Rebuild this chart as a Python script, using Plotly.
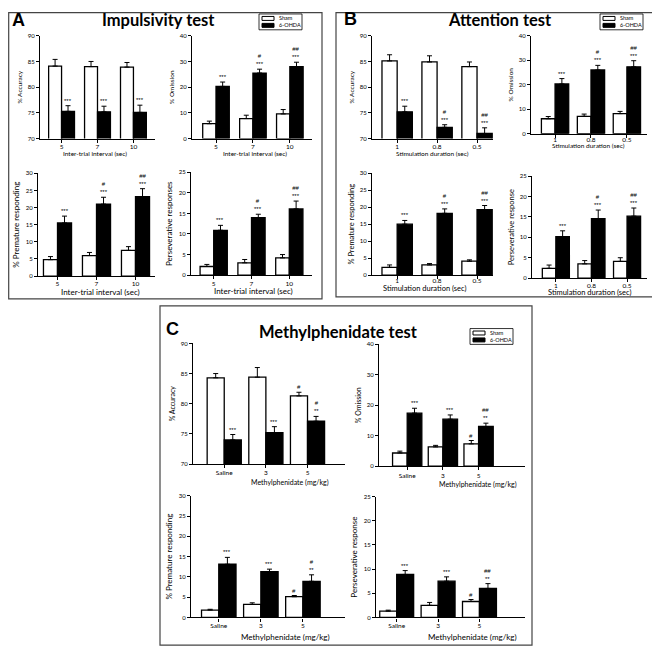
import plotly.graph_objects as go

# ---------------- data ----------------
iti_labels = ["5", "7", "10"]
stim_labels = ["1", "0.8", "0.5"]
mph_labels = ["Saline", "3", "5"]

# Panel A - Impulsivity test
A_acc_sham = [84.1, 84.0, 83.9]
A_acc_sham_err = [1.3, 1.0, 0.9]
A_acc_ohda = [75.3, 75.2, 75.1]
A_acc_ohda_err = [1.1, 1.1, 1.4]
A_om_sham = [5.8, 7.8, 9.6]
A_om_sham_err = [1.0, 1.3, 1.7]
A_om_ohda = [20.3, 25.5, 28.0]
A_om_ohda_err = [1.7, 1.5, 1.7]
A_pre_sham = [4.8, 6.0, 7.5]
A_pre_sham_err = [0.9, 0.9, 1.1]
A_pre_ohda = [15.5, 21.0, 23.2]
A_pre_ohda_err = [2.0, 2.0, 2.3]
A_per_sham = [2.1, 3.0, 4.2]
A_per_sham_err = [0.5, 0.8, 0.8]
A_per_ohda = [10.9, 14.0, 16.1]
A_per_ohda_err = [1.2, 0.8, 1.9]

# Panel B - Attention test
B_acc_sham = [85.1, 84.9, 84.0]
B_acc_sham_err = [1.2, 1.2, 0.9]
B_acc_ohda = [75.2, 72.2, 71.0]
B_acc_ohda_err = [1.1, 0.5, 1.1]
B_om_sham = [6.1, 7.1, 8.2]
B_om_sham_err = [0.9, 0.9, 0.9]
B_om_ohda = [20.3, 26.0, 27.3]
B_om_ohda_err = [2.2, 1.9, 2.5]
B_pre_sham = [2.3, 3.0, 4.1]
B_pre_sham_err = [0.7, 0.4, 0.4]
B_pre_ohda = [15.0, 18.2, 19.3]
B_pre_ohda_err = [1.1, 1.3, 1.2]
B_per_sham = [2.4, 3.5, 4.1]
B_per_sham_err = [0.8, 0.8, 0.9]
B_per_ohda = [10.2, 14.6, 15.2]
B_per_ohda_err = [1.4, 2.1, 2.0]

# Panel C - Methylphenidate test
C_acc_sham = [84.3, 84.4, 81.3]
C_acc_sham_err = [0.7, 1.6, 0.6]
C_acc_ohda = [74.0, 75.2, 77.1]
C_acc_ohda_err = [0.9, 1.0, 0.8]
C_om_sham = [4.3, 6.3, 7.3]
C_om_sham_err = [0.6, 0.5, 1.1]
C_om_ohda = [17.4, 15.4, 13.0]
C_om_ohda_err = [1.6, 1.4, 1.1]
C_pre_sham = [1.8, 3.2, 5.1]
C_pre_sham_err = [0.2, 0.4, 0.3]
C_pre_ohda = [13.1, 11.3, 8.9]
C_pre_ohda_err = [1.7, 0.6, 1.6]
C_per_sham = [1.3, 2.5, 3.3]
C_per_sham_err = [0.2, 0.6, 0.4]
C_per_ohda = [8.9, 7.5, 6.0]
C_per_ohda_err = [0.8, 0.9, 1.0]

# significance marks
no_sig = ["", "", ""]
sig_all3 = ["***", "***", "***"]
sig_trend = ["***", "#<br>***", "##<br>***"]
C_sham_sig = ["", "", "#"]
C_acc_ohda_sig = ["***", "***", "#<br>**"]
C_om_ohda_sig = ["***", "***", "##<br>**"]
C_pre_ohda_sig = ["***", "***", "#<br>**"]
C_per_ohda_sig = ["***", "***", "##<br>**"]

group_names = ["Sham", "6-OHDA"]
titles = ["Impulsivity test", "Attention test", "Methylphenidate test"]
letters = ["A", "B", "C"]
xlab_A = "Inter-trial interval (sec)"
xlab_B = "Stimulation duration (sec)"
xlab_C = "Methylphenidate (mg/kg)"

# ---------------- layout helpers ----------------
W, H = 660, 650
OFF = 8  # page body margin offset


def fx(p):
    return (p - OFF) / W


def fy(p):
    return 1 - (p - OFF) / H


FONT = "Lato"

plots = [
    dict(cats=iti_labels, s=A_acc_sham, se=A_acc_sham_err, o=A_acc_ohda, oe=A_acc_ohda_err,
         ss=no_sig, os=sig_all3, yl="% Accuracy", xl=xlab_A, yr=[70, 90], dt=5,
         box=(40, 155, 32, 136), xr=[-0.6, 2.6], w=0.36, xt=(95, 151), fs=6.5, ts=-2),
    dict(cats=iti_labels, s=A_om_sham, se=A_om_sham_err, o=A_om_ohda, oe=A_om_ohda_err,
         ss=no_sig, os=sig_trend, yl="% Omission", xl=xlab_A, yr=[0, 40], dt=10,
         box=(192, 312, 32, 136), xr=[-0.65, 2.6], w=0.36, xt=(255, 151), fs=6.5, ts=-2),
    dict(cats=iti_labels, s=A_pre_sham, se=A_pre_sham_err, o=A_pre_ohda, oe=A_pre_ohda_err,
         ss=no_sig, os=sig_trend, yl="% Premature responding", xl=xlab_A, yr=[0, 30], dt=5,
         box=(38, 155, 171, 275), xr=[-0.5, 2.5], w=0.36, xt=(100, 291), fs=8, ts=-2),
    dict(cats=iti_labels, s=A_per_sham, se=A_per_sham_err, o=A_per_ohda, oe=A_per_ohda_err,
         ss=no_sig, os=sig_trend, yl="Perseverative responses", xl=xlab_A, yr=[0, 25], dt=5,
         box=(191, 312, 170, 274), xr=[-0.6, 2.6], w=0.36, xt=(253, 290), fs=8, ts=-1),
    dict(cats=stim_labels, s=B_acc_sham, se=B_acc_sham_err, o=B_acc_ohda, oe=B_acc_ohda_err,
         ss=no_sig, os=sig_trend, yl="% Accuracy", xl=xlab_B, yr=[70, 90], dt=5,
         box=(372, 493, 32, 136), xr=[-0.63, 2.4], w=0.38, xt=(432, 151), fs=6.5, ts=-2),
    dict(cats=stim_labels, s=B_om_sham, se=B_om_sham_err, o=B_om_ohda, oe=B_om_ohda_err,
         ss=no_sig, os=sig_trend, yl="% Omission", xl=xlab_B, yr=[0, 40], dt=10,
         box=(531, 647, 32, 131), xr=[-0.67, 2.56], w=0.38, xt=(588, 143), fs=6.5, ts=-4),
    dict(cats=stim_labels, s=B_pre_sham, se=B_pre_sham_err, o=B_pre_ohda, oe=B_pre_ohda_err,
         ss=no_sig, os=sig_trend, yl="% Premature responding", xl=xlab_B, yr=[0, 30], dt=5,
         box=(372, 493, 171, 274), xr=[-0.63, 2.4], w=0.38, xt=(425, 288), fs=7.5, ts=-4),
    dict(cats=stim_labels, s=B_per_sham, se=B_per_sham_err, o=B_per_ohda, oe=B_per_ohda_err,
         ss=no_sig, os=sig_trend, yl="Perseverative response", xl=xlab_B, yr=[0, 25], dt=5,
         box=(532, 647, 174, 277), xr=[-0.67, 2.56], w=0.38, xt=(590, 292), fs=7.5, ts=-2),
    dict(cats=mph_labels, s=C_acc_sham, se=C_acc_sham_err, o=C_acc_ohda, oe=C_acc_ohda_err,
         ss=C_sham_sig, os=C_acc_ohda_sig, yl="% Accuracy", xl=xlab_C, yr=[70, 90], dt=5,
         box=(193, 345, 343, 465), xr=[-0.75, 2.9], w=0.41, xt=(290, 484), fs=7, ts=-1),
    dict(cats=mph_labels, s=C_om_sham, se=C_om_sham_err, o=C_om_ohda, oe=C_om_ohda_err,
         ss=C_sham_sig, os=C_om_ohda_sig, yl="% Omission", xl=xlab_C, yr=[0, 40], dt=10,
         box=(379, 525, 344, 467), xr=[-0.79, 3.3], w=0.41, xt=(478, 486), fs=7, ts=0),
    dict(cats=mph_labels, s=C_pre_sham, se=C_pre_sham_err, o=C_pre_ohda, oe=C_pre_ohda_err,
         ss=C_sham_sig, os=C_pre_ohda_sig, yl="% Premature responding", xl=xlab_C, yr=[0, 30], dt=5,
         box=(191, 345, 497, 620), xr=[-0.66, 3.0], w=0.41, xt=(285, 640), fs=8, ts=-1),
    dict(cats=mph_labels, s=C_per_sham, se=C_per_sham_err, o=C_per_ohda, oe=C_per_ohda_err,
         ss=C_sham_sig, os=C_per_ohda_sig, yl="Perseverative response", xl=xlab_C, yr=[0, 25], dt=5,
         box=(376, 525, 498, 620), xr=[-0.5, 3.1], w=0.41, xt=(472, 640), fs=8, ts=-1),
]

fig = go.Figure()
annotations = []
shapes = []

for i, p in enumerate(plots):
    n = "" if i == 0 else str(i + 1)
    xa, ya = "x" + n, "y" + n
    err_style = dict(type="data", symmetric=False, thickness=1, width=2.5, color="black")
    fig.add_trace(go.Bar(
        x=p["cats"], y=p["s"], name=group_names[0], xaxis=xa, yaxis=ya,
        offset=-p["w"], width=p["w"], showlegend=False,
        marker=dict(color="white", line=dict(color="black", width=1.3)),
        error_y=dict(array=p["se"], arrayminus=[0] * len(p["se"]), **err_style)))
    fig.add_trace(go.Bar(
        x=p["cats"], y=p["o"], name=group_names[1], xaxis=xa, yaxis=ya,
        offset=0, width=p["w"], showlegend=False,
        marker=dict(color="black", line=dict(color="black", width=1.3)),
        error_y=dict(array=p["oe"], arrayminus=[0] * len(p["oe"]), **err_style)))

    x0, x1, yt, yb = p["box"]
    fig.layout[("xaxis" + n) if n else "xaxis"] = dict(
        domain=[fx(x0), fx(x1)], anchor=ya, type="category", range=p["xr"],
        showline=True, linecolor="black", linewidth=1.3, ticks="outside", ticklen=3,
        tickcolor="black", tickwidth=1, showgrid=False, zeroline=False,
        ticklabelstandoff=p["ts"],
        tickfont=dict(family=FONT, size=6.5, color="black"), fixedrange=True)
    fig.layout[("yaxis" + n) if n else "yaxis"] = dict(
        domain=[fy(yb), fy(yt)], anchor=xa, range=p["yr"], dtick=p["dt"],
        showline=True, linecolor="black", linewidth=1.3, ticks="outside", ticklen=3,
        tickcolor="black", tickwidth=1, showgrid=False, zeroline=False,
        tickfont=dict(family=FONT, size=6, color="black"),
        title=dict(text=p["yl"], font=dict(family=FONT, size=p["fs"], color="black"), standoff=4),
        fixedrange=True)

    annotations.append(dict(text=p["xl"], x=fx(p["xt"][0]), y=fy(p["xt"][1]), xref="paper", yref="paper",
                            showarrow=False, xanchor="center", yanchor="middle",
                            font=dict(family=FONT, size=p["fs"], color="black")))
    for j in range(len(p["cats"])):
        for val, err, sig, sign in ((p["s"][j], p["se"][j], p["ss"][j], -1),
                                    (p["o"][j], p["oe"][j], p["os"][j], 1)):
            if sig:
                annotations.append(dict(text=sig, x=j + sign * p["w"] / 2, y=val + err,
                                        xref=xa, yref=ya, showarrow=False, xanchor="center",
                                        yanchor="bottom", yshift=0,
                                        font=dict(family="Arial", size=6, color="black")))

# panel frames
frames = [(2, 2, 322, 298), (336, 2, 658, 296), (160, 305, 532, 648)]
for (a, b, c, d) in frames:
    a = max(a, OFF + 0.7)
    b = max(b, OFF + 0.7)
    shapes.append(dict(type="rect", xref="paper", yref="paper", x0=fx(a), x1=fx(c), y0=fy(b), y1=fy(d),
                       line=dict(color="#444", width=1.2)))

# panel titles and letters
title_pos = [(158, 16), (500, 16), (338, 331)]
letter_pos = [(10, 16), (342, 15), (164, 328)]
for k in range(3):
    annotations.append(dict(text="<b>" + titles[k] + "</b>", x=fx(title_pos[k][0]), y=fy(title_pos[k][1]),
                            xref="paper", yref="paper", showarrow=False, xanchor="center", yanchor="middle",
                            font=dict(family=FONT, size=16.5, color="black")))
    annotations.append(dict(text="<b>" + letters[k] + "</b>", x=fx(letter_pos[k][0]), y=fy(letter_pos[k][1]),
                            xref="paper", yref="paper", showarrow=False, xanchor="left", yanchor="middle",
                            font=dict(family="Arial", size=18, color="black")))

# legends (one per panel)
legend_pos = [(259, 10), (600, 10), (470, 328)]
for (lx, ly) in legend_pos:
    shapes.append(dict(type="rect", xref="paper", yref="paper", x0=fx(lx), x1=fx(lx + 43),
                       y0=fy(ly), y1=fy(ly + 16), line=dict(color="black", width=0.8)))
    for r, (fill, name) in enumerate(zip(["white", "black"], group_names)):
        cy = ly + 4.5 + r * 7
        shapes.append(dict(type="rect", xref="paper", yref="paper", x0=fx(lx + 3), x1=fx(lx + 15),
                           y0=fy(cy - 2), y1=fy(cy + 2), fillcolor=fill,
                           line=dict(color="black", width=1)))
        annotations.append(dict(text=name, x=fx(lx + 18), y=fy(cy), xref="paper", yref="paper",
                                showarrow=False, xanchor="left", yanchor="middle",
                                font=dict(family=FONT, size=5.5, color="black")))

fig.update_layout(
    width=W, height=H, autosize=False, margin=dict(l=0, r=0, t=0, b=0),
    paper_bgcolor="white", plot_bgcolor="white", barmode="overlay",
    showlegend=False, annotations=annotations, shapes=shapes,
    font=dict(family=FONT, color="black"))

fig.write_html("out.html")
